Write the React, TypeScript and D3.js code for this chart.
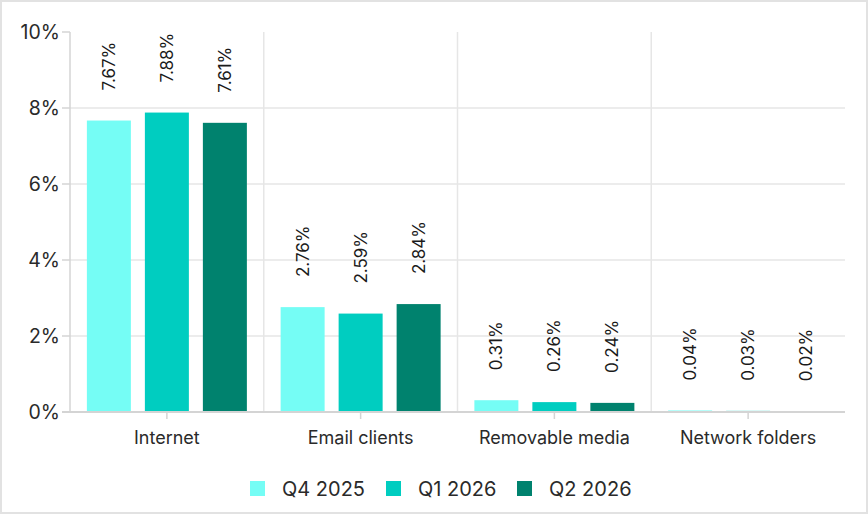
import React from 'react';
import * as d3 from 'd3';

const categories = ['Internet', 'Email clients', 'Removable media', 'Network folders'];
const seriesNames = ['Q4 2025', 'Q1 2026', 'Q2 2026'];
const seriesColors = ['#75fdf5', '#00cdc0', '#00826e'];
const q4_2025 = [7.67, 2.76, 0.31, 0.04];
const q1_2026 = [7.88, 2.59, 0.26, 0.03];
const q2_2026 = [7.61, 2.84, 0.24, 0.02];
const yTicks = [0, 2, 4, 6, 8, 10];

const seriesValues = [q4_2025, q1_2026, q2_2026];

const width = 868;
const height = 514;
const margin = { top: 32, right: 23, bottom: 102, left: 70 };
const font = 'Inter, "Noto Sans", sans-serif';

const App: React.FC = () => {
  const x = d3.scaleBand<string>()
    .domain(categories)
    .range([margin.left, width - margin.right])
    .padding(0);

  const inner = d3.scaleBand<string>()
    .domain(seriesNames)
    .range([0, 160])
    .paddingInner(14 / 58)
    .paddingOuter(0);

  const y = d3.scaleLinear()
    .domain([0, 10])
    .range([height - margin.bottom, margin.top]);

  const x0 = margin.left;
  const x1 = width - margin.right;
  const base = y(0);

  // legend positions
  const legendX = [250, 386, 517];

  return (
    <div style={{ position: 'fixed', left: 0, top: 0 }}>
      <svg width={width} height={height} style={{ display: 'block', fontFamily: font }}>
        <rect x={0} y={0} width={width} height={height} fill="#fff" />
        <rect x={1} y={1} width={width - 2} height={height - 2} fill="none" stroke="#e2e2e2" strokeWidth={2} />

        {/* horizontal grid */}
        {yTicks.filter(t => t > 0 && t < 10).map(t => (
          <line key={t} x1={x0} x2={x1} y1={y(t)} y2={y(t)} stroke="#e6e6e6" strokeWidth={1.5} />
        ))}

        {/* vertical category separators */}
        {categories.slice(1).map(c => (
          <line key={c} x1={x(c)} x2={x(c)} y1={y(10)} y2={base} stroke="#e6e6e6" strokeWidth={1.5} />
        ))}

        {/* y axis */}
        <line x1={x0} x2={x0} y1={y(10)} y2={base} stroke="#d4d4d4" strokeWidth={1.5} />
        {yTicks.map(t => (
          <g key={t}>
            <line x1={x0 - 8} x2={x0} y1={y(t)} y2={y(t)} stroke="#d4d4d4" strokeWidth={1.5} />
            <text x={x0 - 10} y={y(t)} textAnchor="end" dominantBaseline="central" fontSize={19.5} fill="#2a2a2a">
              {t}%
            </text>
          </g>
        ))}

        {/* bars */}
        {seriesValues.map((vals, si) => (
          <g key={seriesNames[si]}>
            {vals.map((v, ci) => {
              const c = categories[ci];
              const cx = (x(c) as number) + x.bandwidth() / 2 - 80 + (inner(seriesNames[si]) as number);
              const top = y(v);
              const lx = cx + inner.bandwidth() / 2;
              return (
                <g key={c}>
                  <rect x={cx} y={top} width={inner.bandwidth()} height={base - top} fill={seriesColors[si]} />
                  <text
                    transform={`translate(${lx},${top - 30}) rotate(-90)`}
                    dominantBaseline="central"
                    fontSize={17}
                    fill="#1a1a1a"
                  >
                    {v.toFixed(2)}%
                  </text>
                </g>
              );
            })}
          </g>
        ))}

        {/* x axis */}
        <line x1={x0 - 8} x2={x1} y1={base} y2={base} stroke="#d4d4d4" strokeWidth={2} />
        {categories.map(c => {
          const cx = (x(c) as number) + x.bandwidth() / 2;
          return (
            <g key={c}>
              <line x1={cx} x2={cx} y1={base} y2={base + 7} stroke="#d4d4d4" strokeWidth={1.5} />
              <text x={cx} y={base + 25} textAnchor="middle" dominantBaseline="central" fontSize={18} fill="#2a2a2a">
                {c}
              </text>
            </g>
          );
        })}

        {/* legend */}
        {seriesNames.map((s, i) => (
          <g key={s} transform={`translate(${legendX[i]},481)`}>
            <rect x={0} y={0} width={15} height={15} fill={seriesColors[i]} />
            <text x={32} y={8} dominantBaseline="central" fontSize={20} fill="#2a2a2a">
              {s}
            </text>
          </g>
        ))}
      </svg>
    </div>
  );
};

export default App;
